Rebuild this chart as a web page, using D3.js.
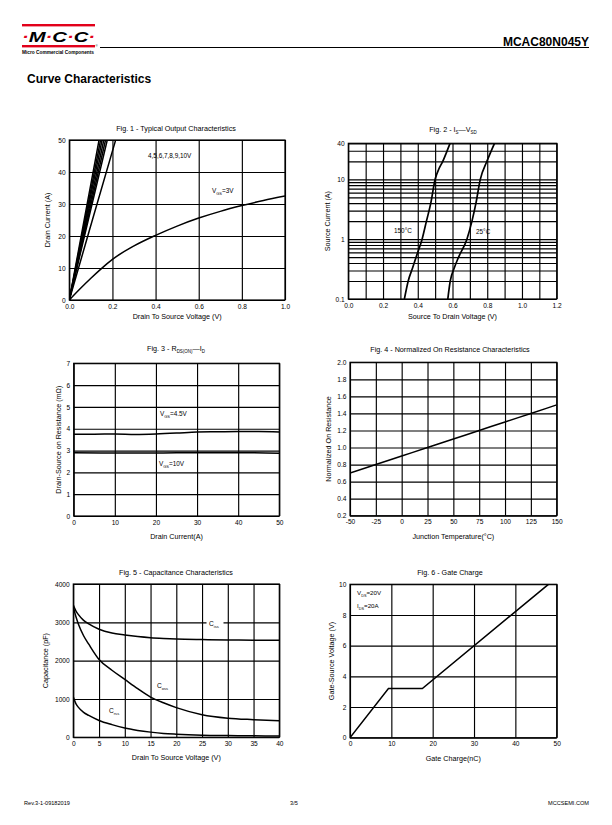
<!DOCTYPE html>
<html><head><meta charset="utf-8">
<script src="https://cdn.jsdelivr.net/npm/d3@7"></script>
<style>
body{margin:0;background:#fff}
svg{display:block}
text{font-family:"Liberation Sans",Arial,sans-serif;fill:#000}
</style></head><body>
<script>
// ---------------- DATA ----------------
// Fig 1 - Typical Output Characteristics
const fig1XTicks = [0, 0.2, 0.4, 0.6, 0.8, 1.0];
const fig1YTicks = [0, 10, 20, 30, 40, 50];
const fig1Vgs3 = [[0,0],[0.05,3.5],[0.1,6.8],[0.15,9.9],[0.2,12.7],[0.3,16.9],[0.4,20.2],[0.5,23.1],[0.6,25.6],[0.7,27.7],[0.8,29.5],[0.9,31.1],[1.0,32.5]];
const fig1Vgs4  = [[0,0],[0.107,25],[0.215,50]];
const fig1Vgs5  = [[0,0],[0.088,25],[0.176,50]];
const fig1Vgs6  = [[0,0],[0.084,25],[0.168,50]];
const fig1Vgs7  = [[0,0],[0.080,25],[0.160,50]];
const fig1Vgs8  = [[0,0],[0.076,25],[0.152,50]];
const fig1Vgs9  = [[0,0],[0.073,25],[0.145,50]];
const fig1Vgs10 = [[0,0],[0.069,25],[0.138,50]];

// Fig 2 - Is vs Vsd (log)
const fig2XTicks = [0, 0.1, 0.2, 0.3, 0.4, 0.5, 0.6, 0.7, 0.8, 0.9, 1.0, 1.1, 1.2];
const fig2XLabels = [0, 0.2, 0.4, 0.6, 0.8, 1.0, 1.2];
const fig2YGrid = [0.1,0.2,0.3,0.4,0.5,0.6,0.7,0.8,0.9,1,2,3,4,5,6,7,8,9,10,20,30,40];
const fig2YLabels = [0.1, 1, 10, 40];
const fig2T150 = [[0.323,0.1],[0.345,0.2],[0.37,0.33],[0.395,0.55],[0.425,1],[0.45,2],[0.475,4],[0.50,10],[0.522,15],[0.544,20],[0.565,28],[0.586,40]];
const fig2T25  = [[0.573,0.1],[0.587,0.2],[0.61,0.33],[0.635,0.5],[0.683,1],[0.712,2],[0.735,4],[0.76,10],[0.798,20],[0.842,40]];

// Fig 3 - Rds(on) vs Id
const fig3XTicks = [0, 10, 20, 30, 40, 50];
const fig3YTicks = [0, 1, 2, 3, 4, 5, 6, 7];
const fig3Vgs45 = [[0,3.75],[5,3.75],[10,3.76],[15,3.74],[20,3.76],[25,3.8],[30,3.85],[35,3.86],[40,3.87],[45,3.87],[50,3.85]];
const fig3Vgs10 = [[0,2.9],[10,2.89],[20,2.89],[30,2.9],[40,2.9],[50,2.88]];

// Fig 4 - Normalized On Resistance
const fig4XTicks = [-50, -25, 0, 25, 50, 75, 100, 125, 150];
const fig4YTicks = [0.2, 0.4, 0.6, 0.8, 1.0, 1.2, 1.4, 1.6, 1.8, 2.0];
const fig4Temp = [-50, -25, 0, 25, 50, 75, 100, 125, 150];
const fig4Rn   = [0.7, 0.8, 0.9, 1.0, 1.1, 1.2, 1.3, 1.4, 1.5];

// Fig 5 - Capacitance
const fig5XTicks = [0, 5, 10, 15, 20, 25, 30, 35, 40];
const fig5YTicks = [0, 1000, 2000, 3000, 4000];
const fig5Vds  = [0, 0.5, 1, 2, 3, 5, 7.5, 10, 12.5, 15, 17.5, 20, 25, 30, 35, 40];
const fig5Ciss = [3450, 3300, 3200, 3050, 2960, 2820, 2720, 2670, 2630, 2600, 2580, 2565, 2550, 2540, 2535, 2530];
const fig5Coss = [3400, 3150, 2950, 2650, 2430, 2030, 1750, 1510, 1270, 1050, 900, 775, 590, 500, 460, 430];
const fig5Crss = [1050, 880, 780, 650, 570, 440, 330, 240, 180, 135, 100, 80, 55, 45, 38, 35];

// Fig 6 - Gate Charge
const fig6XTicks = [0, 10, 20, 30, 40, 50];
const fig6YTicks = [0, 2, 4, 6, 8, 10];
const fig6Qg  = [0, 9.3, 17.5, 48];
const fig6Vgs = [0, 3.2, 3.2, 10];

// ---------------- DRAWING ----------------
const W = 612, H = 825;
const svg = d3.select("body").append("svg").attr("width", W).attr("height", H);
svg.append("rect").attr("width", W).attr("height", H).attr("fill", "#fff");

// rich text with subscripts: parts = [[text, isSub], ...]
function rich(g, x, y, parts, size, anchor) {
  const t = g.append("text").attr("x", x).attr("y", y).attr("font-size", size)
    .attr("text-anchor", anchor || "start");
  let shifted = false;
  parts.forEach(p => {
    const s = t.append("tspan").text(p[0]);
    if (p[1] === "sub") {
      s.attr("font-size", size * 0.62);
      if (!shifted) { s.attr("dy", size * 0.28); shifted = true; }
    } else if (shifted) {
      s.attr("dy", -size * 0.28); shifted = false;
    }
  });
  return t;
}

let clipId = 0;
function panel(cfg) {
  const {box} = cfg;
  const g = svg.append("g");
  const x = d3.scaleLinear().domain(cfg.xDomain).range([box.l, box.r]);
  const y = (cfg.yLog ? d3.scaleLog() : d3.scaleLinear()).domain(cfg.yDomain).range([box.b, box.t]);
  const h = box.b - box.t, w = box.r - box.l;
  // grid
  const gx = g.append("g").attr("transform", `translate(0,${box.b})`)
    .call(d3.axisBottom(x).tickValues(cfg.xGrid).tickSize(-h).tickFormat(""));
  const gy = g.append("g").attr("transform", `translate(${box.l},0)`)
    .call(d3.axisLeft(y).tickValues(cfg.yGrid).tickSize(-w).tickFormat(""));
  [gx, gy].forEach(a => {
    a.select(".domain").remove();
    a.selectAll("line").attr("stroke", "#000").attr("stroke-width", 1.15);
  });
  g.append("rect").attr("x", box.l).attr("y", box.t).attr("width", w).attr("height", h)
    .attr("fill", "none").attr("stroke", "#000").attr("stroke-width", 1.2);
  // labels
  const lx = g.append("g").attr("transform", `translate(0,${box.b})`)
    .call(d3.axisBottom(x).tickValues(cfg.xLabels).tickSize(0).tickPadding(3.9).tickFormat(cfg.xFmt));
  const ly = g.append("g").attr("transform", `translate(${box.l},0)`)
    .call(d3.axisLeft(y).tickValues(cfg.yLabels).tickSize(0).tickPadding(3.6).tickFormat(cfg.yFmt));
  [lx, ly].forEach(a => {
    a.select(".domain").remove();
    a.attr("font-family", null).attr("font-size", null);
    a.selectAll("text").attr("font-size", 6.6).attr("fill", "#000");
  });
  // titles
  rich(g, cfg.titleX, box.t - cfg.titleDy, cfg.title, 7.2, "middle");
  rich(g, (box.l + box.r) / 2 + (cfg.xtOff || 0), box.b + cfg.xtDy, cfg.xTitle, 7.2, "middle");
  const yt = rich(g, 0, 0, cfg.yTitle, 7.2, "middle");
  yt.attr("x", null).attr("y", null)
    .attr("transform", `translate(${cfg.ytX},${(box.t + box.b) / 2 + (cfg.ytOff || 0)}) rotate(-90)`);
  // clip
  const id = "clip" + (clipId++);
  svg.append("clipPath").attr("id", id).append("rect")
    .attr("x", box.l).attr("y", box.t).attr("width", w).attr("height", h);
  const plot = g.append("g").attr("clip-path", `url(#${id})`);
  return {g, x, y, plot};
}

function drawLine(p, data, sw) {
  const line = d3.line().x(d => p.x(d[0])).y(d => p.y(d[1])).curve(d3.curveMonotoneX);
  p.plot.append("path").datum(data).attr("d", line).attr("fill", "none")
    .attr("stroke", "#000").attr("stroke-width", sw || 1.6).attr("stroke-linejoin", "round");
}
const zip = (a, b) => a.map((v, i) => [v, b[i]]);

// ---------- Header ----------
const red = "#e2001a";
svg.append("rect").attr("x", 22).attr("y", 24).attr("width", 73).attr("height", 2.4).attr("fill", red);
svg.append("rect").attr("x", 22).attr("y", 45).attr("width", 73).attr("height", 2.4).attr("fill", red);
const logo = svg.append("text").attr("x", 22).attr("y", 41.5).attr("font-size", 15)
  .attr("font-weight", "bold").attr("font-style", "italic")
  .attr("textLength", 73).attr("lengthAdjust", "spacingAndGlyphs");
["·","M","·","C","·","C","·"].forEach((c, i) => {
  logo.append("tspan").text(c).attr("fill", i % 2 === 0 ? red : "#000");
});
svg.append("text").attr("x", 22).attr("y", 53.5).attr("font-size", 5.3).attr("font-weight", "bold")
  .attr("textLength", 72).attr("lengthAdjust", "spacingAndGlyphs").text("Micro Commercial Components");
svg.append("text").attr("x", 95.5).attr("y", 47).attr("font-size", 3).text("®");
svg.append("line").attr("x1", 100).attr("x2", 589).attr("y1", 47.5).attr("y2", 47.5)
  .attr("stroke", "#000").attr("stroke-width", 1);
svg.append("text").attr("x", 589).attr("y", 46).attr("text-anchor", "end")
  .attr("font-size", 12).attr("font-weight", "bold").text("MCAC80N045Y");
svg.append("text").attr("x", 27).attr("y", 83).attr("font-size", 12).attr("font-weight", "bold")
  .text("Curve Characteristics");

// ---------- Footer ----------
svg.append("text").attr("x", 24).attr("y", 805).attr("font-size", 5.6).text("Rev.3-1-09182019");
svg.append("text").attr("x", 294).attr("y", 805).attr("font-size", 5.6).attr("text-anchor", "middle").text("3/5");
svg.append("text").attr("x", 589).attr("y", 805).attr("font-size", 5.6).attr("text-anchor", "end").text("MCCSEMI.COM");

const f1 = d3.format(".1f"), f0 = d => String(d);

// ---------- Fig 1 ----------
const p1 = panel({
  box: {l: 69.3, r: 285, t: 140, b: 300},
  xDomain: [0, 1], yDomain: [0, 50],
  xGrid: fig1XTicks, yGrid: fig1YTicks, xLabels: fig1XTicks, yLabels: fig1YTicks,
  xFmt: f1, yFmt: f0,
  title: [["Fig. 1 - Typical Output Characteristics"]], titleX: 176, titleDy: 9.5,
  xTitle: [["Drain To Source Voltage (V)"]], xtDy: 19,
  yTitle: [["Drain Current (A)"]], ytX: 49.5
});
[fig1Vgs4, fig1Vgs5, fig1Vgs6, fig1Vgs7, fig1Vgs8, fig1Vgs9, fig1Vgs10].forEach(d => drawLine(p1, d, 1.5));
drawLine(p1, fig1Vgs3, 1.5);
rich(p1.g, 148, 158, [["4,5,6,7,8,9,10V"]], 6.4, "start");
rich(p1.g, 212, 193, [["V"],["GS","sub"],["=3V"]], 6.4, "start");

// ---------- Fig 2 ----------
const p2 = panel({
  box: {l: 348.3, r: 556.7, t: 143.3, b: 299},
  xDomain: [0, 1.2], yDomain: [0.1, 40], yLog: true,
  xGrid: fig2XTicks, yGrid: fig2YGrid, xLabels: fig2XLabels, yLabels: fig2YLabels,
  xFmt: f1, yFmt: d => String(d),
  title: [["Fig. 2 - I"],["S","sub"],["—V"],["SD","sub"]], titleX: 453, titleDy: 11,
  xTitle: [["Source To Drain Voltage (V)"]], xtDy: 19.5,
  yTitle: [["Source Current (A)"]], ytX: 329.5
});
drawLine(p2, fig2T150, 1.7);
drawLine(p2, fig2T25, 1.7);
rich(p2.g, 394, 233, [["150°C"]], 6.4, "start");
rich(p2.g, 476, 234, [["25°C"]], 6.4, "start");

// ---------- Fig 3 ----------
const p3 = panel({
  box: {l: 73.7, r: 279.3, t: 363.3, b: 516},
  xDomain: [0, 50], yDomain: [0, 7],
  xGrid: fig3XTicks, yGrid: fig3YTicks, xLabels: fig3XTicks, yLabels: fig3YTicks,
  xFmt: f0, yFmt: f0,
  title: [["Fig. 3 - R"],["DS(ON)","sub"],["—I"],["D","sub"]], titleX: 176, titleDy: 12,
  xTitle: [["Drain Current(A)"]], xtDy: 23,
  yTitle: [["Drain-Source on Resistance (mΩ)"]], ytX: 60.5
});
drawLine(p3, fig3Vgs45, 1.5);
drawLine(p3, fig3Vgs10, 1.5);
rich(p3.g, 160, 416, [["V"],["GS","sub"],["=4.5V"]], 6.4, "start");
rich(p3.g, 159, 466, [["V"],["GS","sub"],["=10V"]], 6.4, "start");

// ---------- Fig 4 ----------
const p4 = panel({
  box: {l: 350, r: 556.7, t: 362.3, b: 515.7},
  xDomain: [-50, 150], yDomain: [0.2, 2.0],
  xGrid: fig4XTicks, yGrid: fig4YTicks, xLabels: fig4XTicks, yLabels: fig4YTicks,
  xFmt: f0, yFmt: f1,
  title: [["Fig. 4 - Normalized On Resistance Characteristics"]], titleX: 450, titleDy: 10.5,
  xTitle: [["Junction Temperature(°C)"]], xtDy: 23,
  yTitle: [["Normalized On Resistance"]], ytX: 331
});
drawLine(p4, zip(fig4Temp, fig4Rn), 1.5);

// ---------- Fig 5 ----------
const p5 = panel({
  box: {l: 73.3, r: 279.3, t: 584, b: 737.3},
  xDomain: [0, 40], yDomain: [0, 4000],
  xGrid: fig5XTicks, yGrid: fig5YTicks, xLabels: fig5XTicks, yLabels: fig5YTicks,
  xFmt: f0, yFmt: f0,
  title: [["Fig. 5 - Capacitance Characteristics"]], titleX: 176, titleDy: 9.5,
  xTitle: [["Drain To Source Voltage (V)"]], xtDy: 23,
  yTitle: [["Capacitance (pF)"]], ytX: 48
});
drawLine(p5, zip(fig5Vds, fig5Ciss), 1.5);
drawLine(p5, zip(fig5Vds, fig5Coss), 1.5);
drawLine(p5, zip(fig5Vds, fig5Crss), 1.5);
p5.g.append("rect").attr("x", 206.5).attr("y", 619).attr("width", 17).attr("height", 9).attr("fill", "#fff");
rich(p5.g, 209, 626, [["C"],["iss","sub"]], 6.6, "start");
rich(p5.g, 157, 688, [["C"],["oss","sub"]], 6.6, "start");
rich(p5.g, 109, 713, [["C"],["rss","sub"]], 6.6, "start");

// ---------- Fig 6 ----------
const p6 = panel({
  box: {l: 350, r: 556.7, t: 584.3, b: 737.7},
  xDomain: [0, 50], yDomain: [0, 10],
  xGrid: fig6XTicks, yGrid: fig6YTicks, xLabels: fig6XTicks, yLabels: fig6YTicks,
  xFmt: f0, yFmt: f0,
  title: [["Fig. 6 - Gate Charge"]], titleX: 450, titleDy: 9.8,
  xTitle: [["Gate Charge(nC)"]], xtDy: 23,
  yTitle: [["Gate-Source Voltage (V)"]], ytX: 333.5
});
{
  const line = d3.line().x(d => p6.x(d[0])).y(d => p6.y(d[1]));
  p6.plot.append("path").datum(zip(fig6Qg, fig6Vgs)).attr("d", line).attr("fill", "none")
    .attr("stroke", "#000").attr("stroke-width", 1.5);
}
rich(p6.g, 357, 595, [["V"],["DS","sub"],["=20V"]], 6.2, "start");
rich(p6.g, 357, 608, [["I"],["DS","sub"],["=20A"]], 6.2, "start");
</script>
</body></html>
